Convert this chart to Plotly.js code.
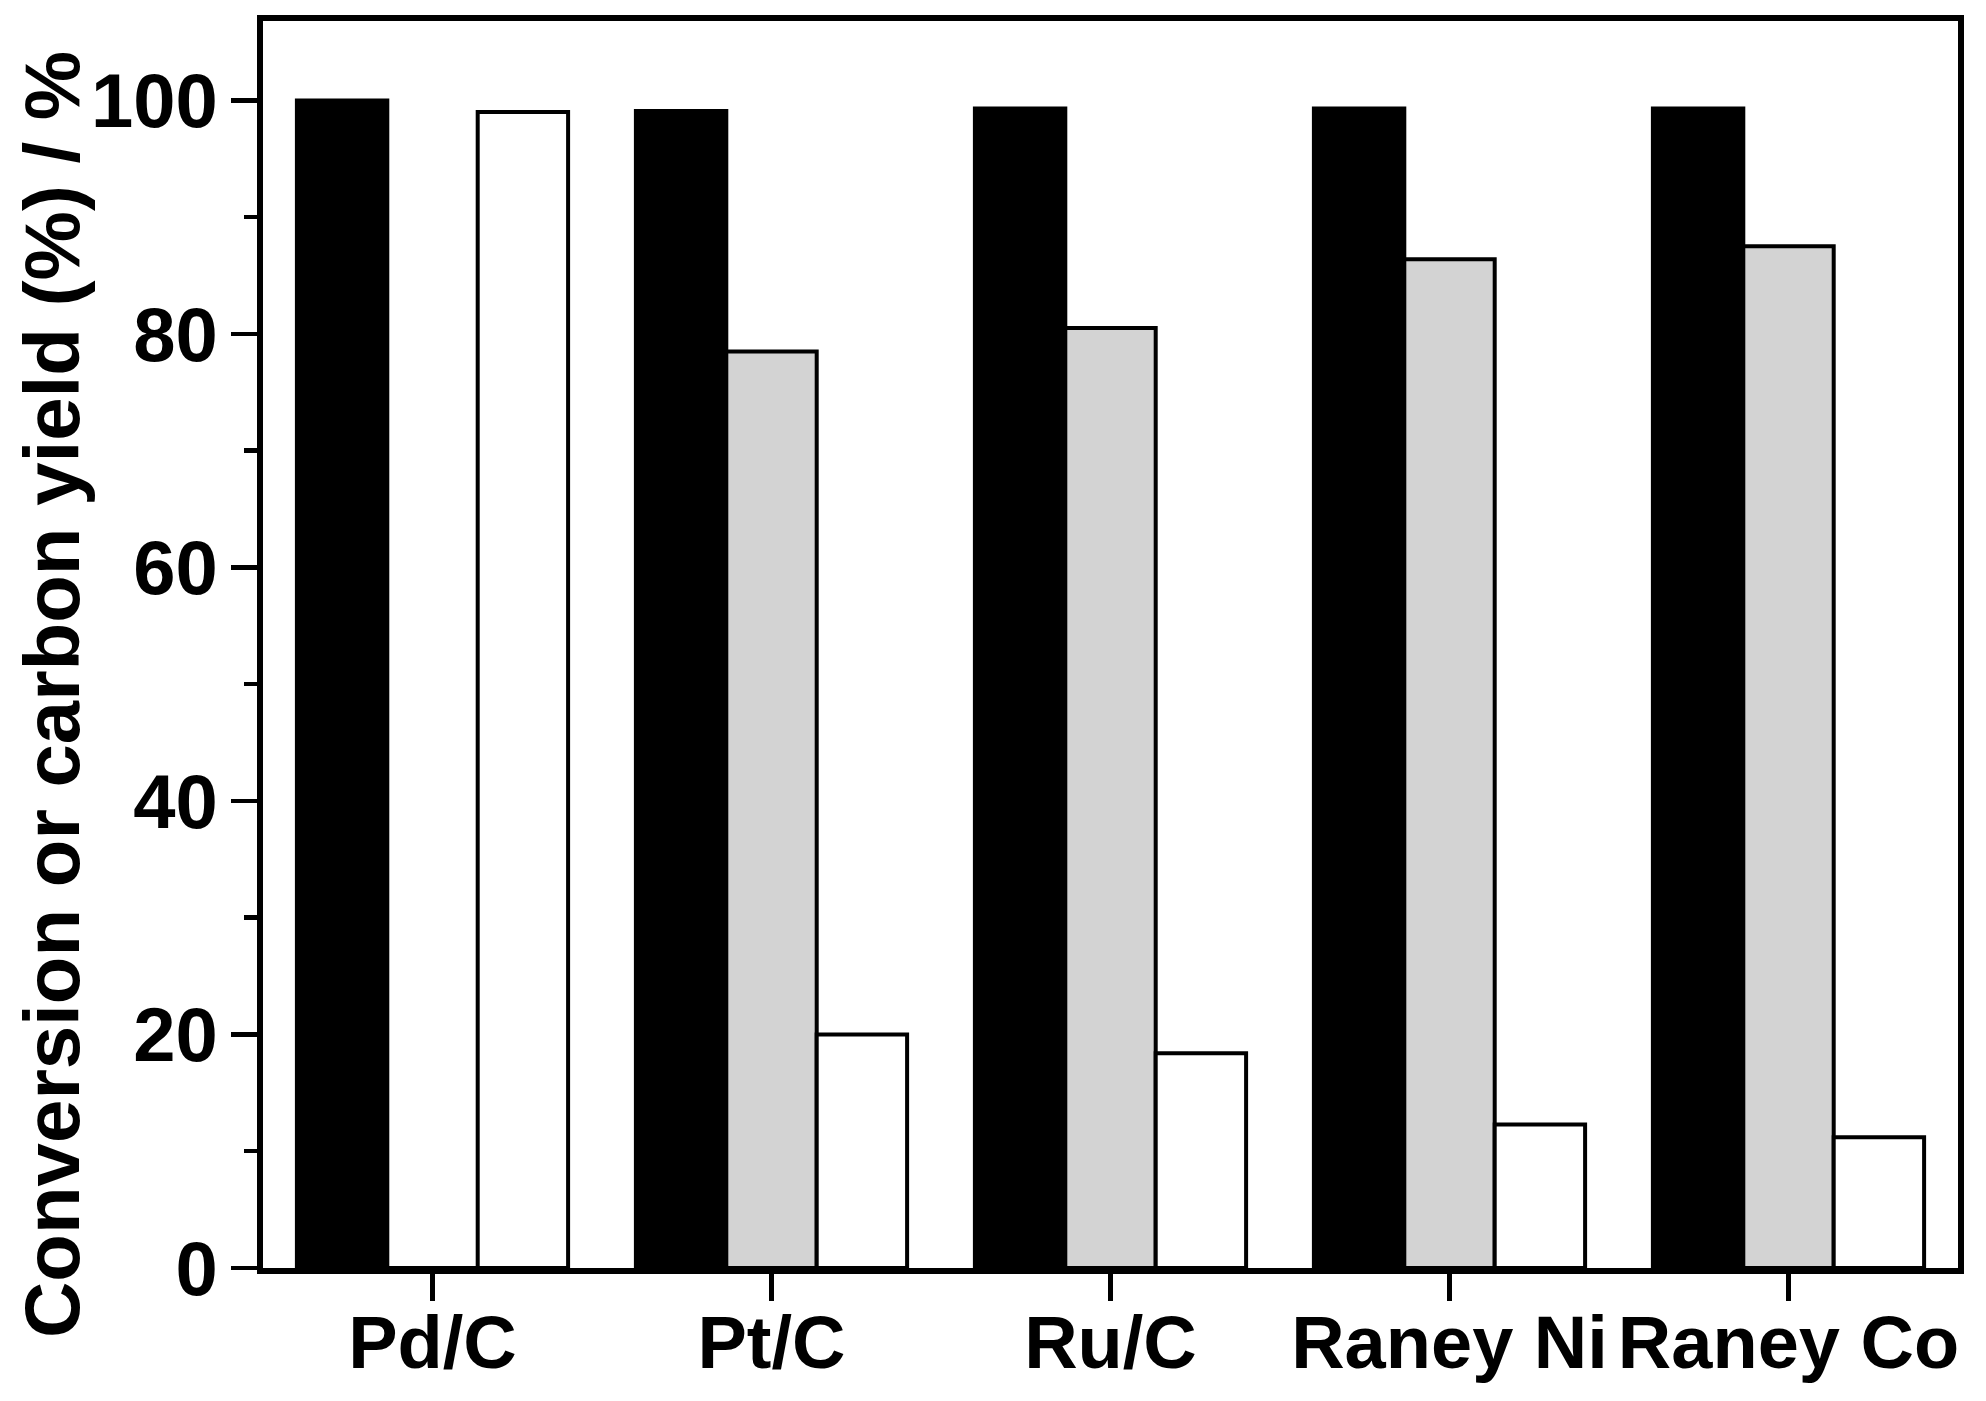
<!DOCTYPE html>
<html>
<head>
<meta charset="utf-8">
<script src="https://cdn.plot.ly/plotly-3.0.1.min.js"></script>
<style>html,body{margin:0;padding:0;background:#fff;}#chart{width:1986px;height:1401px;}</style>
</head>
<body>
<div id="chart"></div>
<script>
const categories = ["Pd/C", "Pt/C", "Ru/C", "Raney Ni", "Raney Co"];
const conversion = [100, 99.1, 99.3, 99.3, 99.3];
const yieldGray = [0, 78.5, 80.5, 86.4, 87.5];
const yieldWhite = [99.0, 20.0, 18.4, 12.3, 11.2];
const yTickVals = [0, 20, 40, 60, 80, 100];
const yTickText = ["0", "20", "40", "60", "80", "100"];
const yTitle = "Conversion or carbon yield (%) / %";

const FONT = "Arial, 'Liberation Sans', sans-serif";
const outline = {color: "#000000", width: 4};

const traces = [
  {type: "bar", x: categories, y: conversion, marker: {color: "#000000", line: outline}, name: "Conversion"},
  {type: "bar", x: categories, y: yieldGray, marker: {color: "#d3d3d3", line: outline}, name: "Yield 1"},
  {type: "bar", x: categories, y: yieldWhite, marker: {color: "#ffffff", line: outline}, name: "Yield 2"}
];

const layout = {
  width: 1986, height: 1401,
  margin: {l: 263, r: 28, t: 21, b: 133, pad: 0},
  paper_bgcolor: "#ffffff", plot_bgcolor: "#ffffff",
  showlegend: false,
  barmode: "group", bargap: 0.2, bargroupgap: 0,
  font: {family: FONT, color: "#000000"},
  xaxis: {
    type: "category", range: [-0.5, 4.5],
    showline: true, linecolor: "#000000", linewidth: 6, mirror: true,
    ticks: "outside", ticklen: 27, tickwidth: 4.5, tickcolor: "#000000",
    tickangle: 0, ticklabelstandoff: -22,
    showgrid: false, zeroline: false,
    tickfont: {family: FONT, size: 74, weight: "bold", color: "#000000"}
  },
  yaxis: {
    range: [0, 106.8],
    showline: true, linecolor: "#000000", linewidth: 6, mirror: true,
    ticks: "outside", ticklen: 26, tickwidth: 4.5, tickcolor: "#000000",
    tickvals: yTickVals, ticktext: yTickText,
    ticklabelstandoff: -2,
    minor: {dtick: 10, tick0: 0, ticks: "outside", ticklen: 13, tickwidth: 4.5, tickcolor: "#000000", showgrid: false},
    showgrid: false, zeroline: false,
    tickfont: {family: FONT, size: 76, weight: "bold", color: "#000000"},
    title: {text: ""}
  },
  annotations: [{
    text: yTitle, textangle: -90, showarrow: false,
    xref: "paper", yref: "paper", x: (52 - 263) / 1695, y: (1268 - 695) / 1247,
    xanchor: "center", yanchor: "middle",
    font: {family: FONT, size: 78, weight: "bold", color: "#000000"}
  }]
};

Plotly.newPlot("chart", traces, layout, {displayModeBar: false, staticPlot: true});
</script>
</body>
</html>
